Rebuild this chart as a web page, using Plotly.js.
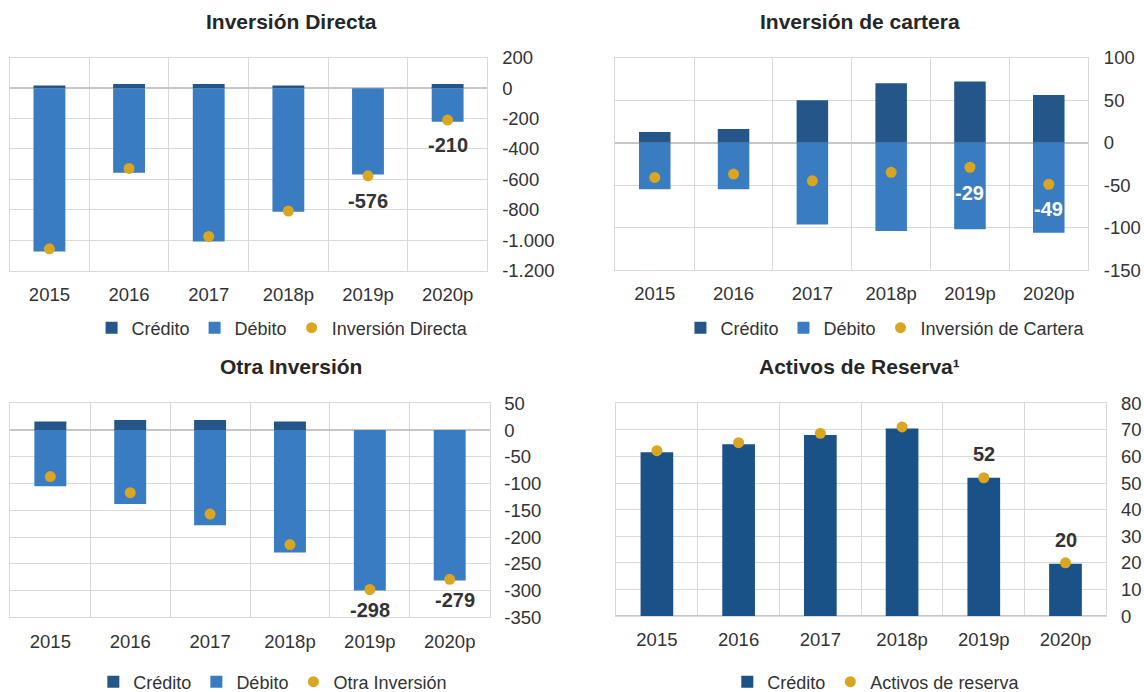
<!DOCTYPE html>
<html>
<head>
<meta charset="utf-8">
<script src="https://cdn.plot.ly/plotly-3.0.1.min.js"></script>
<style>
  body { margin: 0; background: #fff; }
  #graph { width: 1144px; height: 692px; }
</style>
</head>
<body>
<div id="graph"></div>
<script>
// ****** DATA ******
const years = ["2015", "2016", "2017", "2018p", "2019p", "2020p"];

// Inversión Directa
const idCredito = [18, 28, 28, 18, 0, 28];
const idDebito = [-1073, -556, -1008, -813, -567, -221];
const idNeto = [-1056, -528, -975, -808, -576, -210];

// Inversión de cartera
const icCredito = [12.5, 16, 50, 70, 72, 56];
const icDebito = [-55, -55, -96.5, -104, -102, -106];
const icNeto = [-41, -37, -45, -35, -29, -49];

// Otra Inversión
const oiCredito = [16, 19, 19, 16, 0, 0];
const oiDebito = [-105, -138, -178, -229, -300, -281];
const oiNeto = [-87, -117, -157, -214, -298, -279];

// Activos de Reserva
const arCredito = [61.6, 64.6, 68.1, 70.5, 52, 19.7];
const arNeto = [62.2, 65.2, 68.7, 71.1, 52, 20];

// tick labels
const idTicks = [200, 0, -200, -400, -600, -800, -1000, -1200];
const idTickText = ["200", "0", "-200", "-400", "-600", "-800", "-1.000", "-1.200"];
const icTicks = [100, 50, 0, -50, -100, -150];
const icTickText = ["100", "50", "0", "-50", "-100", "-150"];
const oiTicks = [50, 0, -50, -100, -150, -200, -250, -300, -350];
const oiTickText = ["50", "0", "-50", "-100", "-150", "-200", "-250", "-300", "-350"];
const arTicks = [0, 10, 20, 30, 40, 50, 60, 70, 80];

// ****** STYLE ******
const cCredito = "#245689";
const cDebito = "#3a7cc1";
const cReserva = "#1a5186";
const cDot = "#daa520";
const txt = "#333333";
const grid = "#d9d9d9";
const font = "Liberation Sans, Arial, sans-serif";

function barTrace(y, name, color, xa, ya, leg, show) {
    return {
        x: years, y: y, name: name, type: "bar",
        marker: { color: color, line: { width: 0 } },
        xaxis: xa, yaxis: ya, legend: leg, showlegend: show
    };
}
function dotTrace(y, name, xa, ya, leg) {
    return {
        x: years, y: y, name: name, type: "scatter", mode: "markers",
        marker: { color: cDot, size: 11 },
        xaxis: xa, yaxis: ya, legend: leg
    };
}

let data = [
    barTrace(idCredito, "Crédito", cCredito, "x", "y", "legend", true),
    barTrace(idDebito, "Débito", cDebito, "x", "y", "legend", true),
    dotTrace(idNeto, "Inversión Directa", "x", "y", "legend"),
    barTrace(icCredito, "Crédito", cCredito, "x2", "y2", "legend2", true),
    barTrace(icDebito, "Débito", cDebito, "x2", "y2", "legend2", true),
    dotTrace(icNeto, "Inversión de Cartera", "x2", "y2", "legend2"),
    barTrace(oiCredito, "Crédito", cCredito, "x3", "y3", "legend3", true),
    barTrace(oiDebito, "Débito", cDebito, "x3", "y3", "legend3", true),
    dotTrace(oiNeto, "Otra Inversión", "x3", "y3", "legend3"),
    barTrace(arCredito, "Crédito", cReserva, "x4", "y4", "legend4", true),
    dotTrace(arNeto, "Activos de reserva", "x4", "y4", "legend4")
];

function xAxis(dom, anchor) {
    return {
        domain: dom, anchor: anchor, type: "category",
        tickson: "boundaries", showgrid: true, gridcolor: grid, gridwidth: 1,
        ticks: "", showline: true, mirror: true, linecolor: grid, linewidth: 1,
        ticklabelstandoff: 7,
        tickfont: { family: font, size: 18.5, color: txt }
    };
}
function yAxis(dom, anchor, range, vals, text, standoff) {
    return {
        domain: dom, anchor: anchor, side: "right", range: range,
        tickmode: "array", tickvals: vals, ticktext: text,
        showgrid: true, gridcolor: grid, gridwidth: 1,
        zeroline: true, zerolinecolor: "#c6c6c6", zerolinewidth: 2,
        showline: true, mirror: true, linecolor: grid, linewidth: 1,
        ticks: "", ticklabelstandoff: standoff,
        tickfont: { family: font, size: 18.5, color: txt }
    };
}
function legendAt(x, y) {
    return {
        orientation: "h", x: x, y: y, xanchor: "center", yanchor: "middle",
        font: { family: font, size: 18, color: txt },
        itemwidth: 30, bgcolor: "rgba(0,0,0,0)", traceorder: "normal"
    };
}
function title(text, x, y) {
    return {
        text: text, x: x, y: y, xref: "paper", yref: "paper",
        xanchor: "center", yanchor: "middle", showarrow: false,
        font: { family: font, size: 21, color: "#262626", weight: "bold" }
    };
}
function label(text, xa, ya, x, y, shift, color, xshift) {
    return {
        text: "<b>" + text + "</b>", x: x, y: y, xref: xa, yref: ya,
        showarrow: false, yshift: shift, xshift: xshift || 0,
        font: { family: font, size: 20, color: color }
    };
}

let layout = {
    width: 1144, height: 692,
    margin: { l: 0, r: 0, t: 0, b: 0, autoexpand: false },
    paper_bgcolor: "#ffffff", plot_bgcolor: "#ffffff",
    barmode: "relative", bargap: 0.6,
    xaxis: xAxis([0.0084, 0.4261], "y"),
    yaxis: yAxis([0.6088, 0.9166], "x", [-1200, 200], idTicks, idTickText, 10),
    xaxis2: xAxis([0.5379, 0.9512], "y2"),
    yaxis2: yAxis([0.6098, 0.9166], "x2", [-150, 100], icTicks, icTickText, 11),
    xaxis3: xAxis([0.0091, 0.4280], "y3"),
    yaxis3: yAxis([0.1079, 0.4172], "x3", [-350, 50], oiTicks, oiTickText, 10),
    xaxis4: xAxis([0.5385, 0.9671], "y4"),
    yaxis4: yAxis([0.1098, 0.4172], "x4", [0, 80], arTicks, arTicks.map(String), 10),
    legend: legendAt(0.247, 0.526),
    legend2: legendAt(0.774, 0.526),
    legend3: legendAt(0.2385, 0.0145),
    legend4: legendAt(0.766, 0.0145),
    annotations: [
        title("Inversión Directa", 0.2544, 0.9686),
        title("Inversión de cartera", 0.7517, 0.9686),
        title("Otra Inversión", 0.2548, 0.4697),
        title("Activos de Reserva¹", 0.7517, 0.4697),
        label("-576", "x", "y", years[4], idNeto[4], -25, txt),
        label("-210", "x", "y", years[5], idNeto[5], -25, txt),
        label("-29", "x2", "y2", years[4], icNeto[4], -26, "#ffffff"),
        label("-49", "x2", "y2", years[5], icNeto[5], -25, "#ffffff"),
        label("-298", "x3", "y3", years[4], oiNeto[4], -20, txt),
        label("-279", "x3", "y3", years[5], oiNeto[5], -21, txt, 5),
        label("52", "x4", "y4", years[4], arNeto[4], 24, txt),
        label("20", "x4", "y4", years[5], arNeto[5], 23, txt)
    ],
    showlegend: true
};

Plotly.newPlot("graph", data, layout, { staticPlot: true });
</script>
</body>
</html>
